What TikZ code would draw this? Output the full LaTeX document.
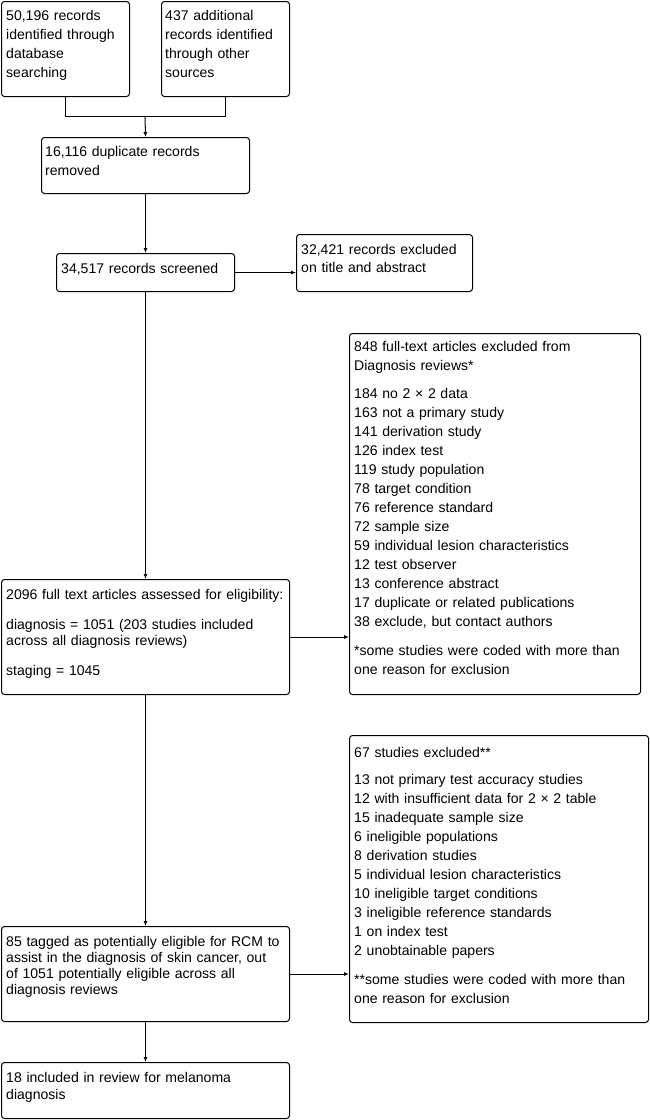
\documentclass[tikz,border=0pt]{standalone}
\usepackage{fontspec}
\setmainfont{Liberation Sans}
\usetikzlibrary{arrows.meta}
\begin{document}
\begin{tikzpicture}[x=1pt,y=-1pt,
  boxst/.style={draw, line width=1pt, rounded corners=3pt, anchor=north west, inner sep=0pt},
  txt/.style={anchor=base west, inner sep=0pt, align=left, text width=#1},
  txt/.default=300pt,
  ls/.style={font=\fontsize{14.05}{#1}\selectfont},
  ln/.style={line width=1pt},
  arr/.style={line width=1pt, -{Latex[length=5pt,width=4pt]}}
]
\fill[white] (0,0) rectangle (650,1120);
\useasboundingbox (0,0) rectangle (650,1120);

% boxes
\node[boxst, minimum width=128pt, minimum height=95pt] (A) at (1,1) {};
\node[boxst, minimum width=128pt, minimum height=95pt] (B) at (161,1) {};
\node[boxst, minimum width=208pt, minimum height=56pt] (C) at (41,137) {};
\node[boxst, minimum width=178pt, minimum height=38pt] (D) at (56,253) {};
\node[boxst, minimum width=176pt, minimum height=57pt] (E) at (296,234) {};
\node[boxst, minimum width=288pt, minimum height=115pt] (F) at (1,579) {};
\node[boxst, minimum width=291pt, minimum height=361pt] (G) at (349,333) {};
\node[boxst, minimum width=288pt, minimum height=95pt] (H) at (1,926) {};
\node[boxst, minimum width=299pt, minimum height=287pt] (I) at (349,735) {};
\node[boxst, minimum width=288pt, minimum height=56pt] (J) at (1,1062) {};

% texts
\node[txt, ls=19pt] (At) at (6,20) {50,196 records\\identified through\\database\\searching};
\node[txt, ls=19pt] (Bt) at (165,20) {437 additional\\records identified\\through other\\sources};
\node[txt, ls=19pt] (Ct) at (45,156) {16,116 duplicate records\\removed};
\node[txt, ls=19pt] (Dt) at (61,273) {34,517 records screened};
\node[txt, ls=18.7pt] (Et) at (301,254) {32,421 records excluded\\on title and abstract};
\node[txt, ls=16pt] (Ft) at (6,599) {2096 full text articles assessed for eligibility:\\[14pt]diagnosis = 1051 (203 studies included\\across all diagnosis reviews)\\[14pt]staging = 1045};
\node[txt, ls=19pt] (Gt) at (354,351) {848 full-text articles excluded from\\Diagnosis reviews*\\[9.7pt]184 no 2 × 2 data\\163 not a primary study\\141 derivation study\\126 index test\\119 study population\\78 target condition\\76 reference standard\\72 sample size\\59 individual lesion characteristics\\12 test observer\\13 conference abstract\\17 duplicate or related publications\\38 exclude, but contact authors\\[9.7pt]*some studies were coded with more than\\one reason for exclusion};
\node[txt, ls=16pt] (Ht) at (6,946.7) {85 tagged as potentially eligible for RCM to\\assist in the diagnosis of skin cancer, out\\of 1051 potentially eligible across all\\diagnosis reviews};
\node[txt, ls=19pt] (It) at (354,757.5) {67 studies excluded**\\[7.5pt]13 not primary test accuracy studies\\12 with insufficient data for 2 × 2 table\\15 inadequate sample size\\6 ineligible populations\\8 derivation studies\\5 individual lesion characteristics\\10 ineligible target conditions\\3 ineligible reference standards\\1 on index test\\2 unobtainable papers\\[10pt]**some studies were coded with more than\\one reason for exclusion};
\node[txt, ls=17.3pt] (Jt) at (6,1082.5) {18 included in review for melanoma\\diagnosis};

% connectors
\coordinate (m) at (145,116);
\draw[ln] (A.south) |- (m);
\draw[ln] (B.south) |- (m);
\draw[arr] (m) -- (C.north);
\draw[arr] (C.south) -- (D.north);
\draw[arr] (D.east) -- (D.east -| E.west);
\draw[arr] (D.south) -- (F.north);
\draw[arr] (F.east) -- (F.east -| G.west);
\draw[arr] (F.south) -- (H.north);
\draw[arr] (H.east) -- (H.east -| I.west);
\draw[arr] (H.south) -- (J.north);
\end{tikzpicture}
\end{document}
